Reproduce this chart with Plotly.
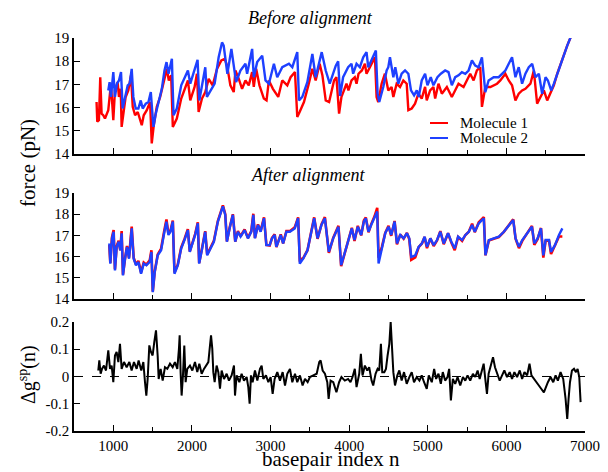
import plotly.graph_objects as go
from plotly.subplots import make_subplots

# ---------------- data ----------------
# Before alignment, molecule 1 (red)
B1_N = [787, 796, 817, 834, 851, 872, 894, 919, 936, 970, 1000, 1021, 1055, 1072, 1094, 1106, 1132, 1157, 1191, 1225,
        1247, 1277, 1311, 1340, 1362, 1387, 1426, 1468, 1489, 1515, 1553, 1596, 1638, 1681, 1706, 1736, 1757, 1808, 1864, 1915,
        1949, 1979, 2034, 2064, 2085, 2128, 2170, 2213, 2264, 2319, 2374, 2417, 2447, 2468, 2489, 2532, 2553, 2596, 2638, 2681,
        2723, 2766, 2787, 2817, 2859, 2915, 2949, 2979, 3030, 3098, 3149, 3213, 3255, 3311, 3340, 3370, 3425, 3481, 3532, 3574,
        3625, 3660, 3702, 3745, 3808, 3838, 3872, 3902, 3966, 3991, 4030, 4072, 4094, 4119, 4162, 4200, 4221, 4264, 4328, 4349,
        4370, 4413, 4455, 4498, 4540, 4562, 4604, 4647, 4689, 4732, 4753, 4796, 4838, 4881, 4923, 4966, 4987, 5030, 5072, 5094,
        5136, 5179, 5243, 5306, 5349, 5391, 5455, 5498, 5540, 5583, 5625, 5668, 5689, 5732, 5796, 5881, 5923, 5987, 6030, 6072,
        6115, 6157, 6200, 6242, 6306, 6349, 6391, 6434, 6477, 6519, 6562, 6604, 6647, 6689, 6732, 6774, 6817]
B1_F = [16.24, 15.39, 15.46, 17.31, 15.74, 15.67, 15.53, 15.74, 15.89, 17.03, 15.46, 16.74, 17.10, 16.46, 16.81, 15.17, 15.89, 16.46, 16.74, 17.39,
        16.03, 15.67, 15.81, 15.53, 15.24, 15.67, 15.89, 16.24, 14.46, 15.24, 16.03, 16.46, 17.03, 17.67, 17.17, 17.39, 15.17, 15.53, 16.39, 16.81,
        17.17, 16.31, 16.89, 17.46, 15.81, 16.39, 16.67, 17.24, 16.96, 17.67, 18.03, 18.10, 17.81, 17.39, 16.96, 16.67, 17.60, 17.24, 16.81, 17.17,
        16.96, 17.53, 16.89, 17.67, 16.96, 16.39, 16.31, 17.17, 16.81, 16.46, 17.17, 16.96, 17.31, 17.53, 15.60, 15.81, 16.24, 16.96, 17.67, 17.17,
        17.89, 17.39, 16.31, 16.24, 17.17, 17.31, 15.74, 16.46, 17.03, 16.74, 17.17, 17.31, 17.03, 17.46, 17.60, 17.89, 17.46, 17.74, 18.17, 16.46,
        16.24, 17.03, 17.46, 16.74, 16.89, 16.46, 17.03, 16.89, 17.17, 17.03, 15.89, 15.96, 16.17, 16.60, 16.39, 16.89, 16.31, 16.74, 16.89, 16.39,
        17.03, 16.60, 16.89, 16.46, 16.74, 17.03, 16.89, 17.17, 17.46, 17.17, 17.60, 17.74, 16.03, 16.89, 16.89, 17.03, 17.17, 17.46, 17.17, 16.96,
        16.31, 16.60, 16.74, 16.81, 17.03, 17.60, 16.17, 16.46, 16.74, 16.31, 16.67, 16.96, 17.46, 17.89, 18.31, 18.67, 19.03]

# Before alignment, molecule 2 (blue)
B2_N = [936, 953, 970, 1000, 1021, 1047, 1072, 1098, 1119, 1149, 1183, 1208, 1234, 1255, 1285, 1319, 1349, 1374, 1413, 1447,
        1477, 1494, 1511, 1540, 1583, 1617, 1651, 1677, 1702, 1745, 1766, 1808, 1864, 1894, 1949, 1979, 2026, 2072, 2094, 2136,
        2170, 2191, 2234, 2289, 2340, 2383, 2404, 2426, 2451, 2502, 2532, 2562, 2617, 2681, 2702, 2766, 2787, 2830, 2894, 2936,
        2979, 3043, 3085, 3149, 3234, 3277, 3340, 3362, 3404, 3468, 3532, 3574, 3651, 3702, 3753, 3830, 3860, 3885, 3923, 3987,
        4030, 4051, 4094, 4136, 4179, 4221, 4243, 4285, 4340, 4362, 4383, 4434, 4477, 4498, 4519, 4562, 4587, 4626, 4668, 4711,
        4753, 4787, 4826, 4860, 4885, 4923, 4966, 4996, 5038, 5072, 5123, 5166, 5221, 5264, 5306, 5349, 5391, 5434, 5477, 5519,
        5562, 5604, 5647, 5689, 5732, 5774, 5838, 5902, 5945, 5987, 6030, 6072, 6115, 6157, 6200, 6242, 6285, 6328, 6370, 6413,
        6455, 6498, 6528, 6570, 6604, 6647, 6689, 6732, 6774, 6817]
B2_F = [16.74, 17.10, 16.46, 17.53, 16.46, 17.03, 17.17, 17.53, 15.96, 16.46, 16.96, 17.03, 17.67, 16.46, 15.96, 15.96, 16.31, 15.96, 16.17, 16.24,
        16.67, 15.89, 15.17, 15.74, 16.39, 16.81, 17.60, 17.96, 17.46, 18.10, 15.67, 15.96, 16.96, 17.17, 17.60, 17.03, 17.53, 18.06, 16.31, 17.17,
        17.74, 16.46, 16.74, 17.03, 18.17, 18.81, 18.67, 18.10, 17.46, 18.53, 17.74, 17.10, 17.60, 17.89, 17.46, 18.53, 17.31, 17.96, 18.24, 17.17,
        17.03, 17.89, 17.31, 17.74, 17.89, 17.74, 18.39, 16.31, 16.46, 17.10, 18.31, 17.31, 18.39, 17.60, 17.03, 17.81, 18.00, 16.50, 17.31, 17.74,
        17.89, 17.46, 17.89, 17.74, 18.17, 18.39, 17.74, 18.03, 18.46, 16.60, 16.24, 16.89, 17.60, 17.74, 18.17, 17.31, 17.74, 17.03, 17.46, 17.60,
        17.46, 16.74, 16.53, 16.74, 16.46, 17.17, 17.46, 16.96, 17.31, 16.96, 17.31, 17.46, 17.60, 17.53, 16.96, 17.31, 17.39, 17.53, 17.46, 17.60,
        18.03, 17.81, 17.74, 18.17, 16.67, 17.17, 17.31, 17.31, 17.46, 17.60, 17.89, 18.17, 17.31, 17.74, 17.03, 17.46, 17.74, 17.89, 17.31, 17.46,
        16.60, 17.31, 17.17, 16.74, 17.03, 17.46, 17.89, 18.31, 18.67, 19.03]

# After alignment (both molecules on the same basepair grid)
A_N = [949, 962, 983, 1004, 1021, 1043, 1068, 1089, 1106, 1123, 1149, 1174, 1200, 1234, 1259, 1289, 1319, 1353, 1387, 1421,
       1463, 1485, 1502, 1527, 1565, 1608, 1650, 1676, 1701, 1727, 1757, 1778, 1820, 1863, 1905, 1948, 1973, 2012, 2041, 2075,
       2092, 2126, 2169, 2194, 2237, 2279, 2330, 2364, 2394, 2424, 2445, 2479, 2521, 2551, 2585, 2619, 2670, 2713, 2755, 2781,
       2802, 2840, 2874, 2917, 2947, 2989, 3019, 3053, 3074, 3130, 3160, 3202, 3245, 3308, 3351, 3372, 3415, 3470, 3521, 3555,
       3598, 3648, 3691, 3742, 3797, 3864, 3898, 3949, 4000, 4034, 4068, 4110, 4153, 4187, 4212, 4246, 4280, 4323, 4357, 4374,
       4416, 4459, 4501, 4535, 4578, 4608, 4650, 4693, 4735, 4765, 4790, 4841, 4884, 4926, 4960, 4990, 5033, 5075, 5118, 5160,
       5203, 5258, 5300, 5343, 5386, 5437, 5479, 5522, 5564, 5598, 5649, 5713, 5734, 5777, 5840, 5904, 5968, 6032, 6087, 6117,
       6160, 6202, 6266, 6325, 6355, 6397, 6440, 6470, 6499, 6542, 6568, 6618, 6669, 6712]
A1_F = [16.55, 15.70, 16.90, 17.25, 15.40, 16.50, 16.75, 16.30, 17.20, 15.15, 15.90, 16.50, 15.95, 17.42, 15.95, 15.62, 15.80, 15.25, 15.72, 15.62,
        15.82, 16.30, 14.35, 15.30, 16.10, 16.38, 17.25, 17.75, 17.08, 17.22, 17.70, 15.25, 15.62, 16.42, 16.82, 17.30, 16.25, 16.66, 17.06, 17.62,
        15.70, 16.35, 17.20, 16.10, 16.42, 16.74, 17.68, 18.10, 18.42, 18.00, 16.72, 17.35, 18.00, 16.70, 17.20, 16.96, 17.28, 16.88, 17.20, 18.02,
        16.88, 17.52, 17.20, 17.85, 16.55, 16.52, 16.88, 17.05, 16.45, 17.05, 16.62, 17.20, 17.20, 17.38, 17.85, 15.85, 15.92, 16.30, 17.20, 17.85,
        16.84, 17.52, 17.86, 16.18, 16.88, 17.45, 15.55, 16.20, 16.90, 17.36, 16.74, 17.45, 17.00, 17.70, 17.85, 17.15, 17.52, 17.90, 18.30, 15.95,
        16.45, 17.12, 17.45, 16.98, 17.68, 16.58, 17.04, 16.84, 17.12, 16.82, 15.85, 15.96, 16.44, 16.62, 16.92, 16.40, 16.86, 16.50, 16.76, 17.20,
        16.58, 17.10, 16.66, 16.30, 16.92, 16.74, 17.02, 17.17, 17.55, 17.15, 17.62, 17.86, 16.06, 16.76, 16.84, 16.92, 17.17, 17.50, 17.76, 16.84,
        16.40, 16.74, 17.08, 17.45, 16.55, 16.82, 17.35, 15.95, 16.74, 16.76, 16.12, 16.50, 16.95, 16.95]
A2_F = [16.62, 15.67, 16.86, 17.17, 15.35, 16.46, 16.70, 16.30, 17.10, 15.11, 15.90, 16.46, 15.90, 17.33, 15.90, 15.59, 15.75, 15.19, 15.67, 15.59,
        15.75, 16.22, 14.32, 15.27, 16.06, 16.30, 17.17, 17.65, 17.02, 17.17, 17.65, 15.19, 15.59, 16.38, 16.78, 17.25, 16.22, 16.62, 17.02, 17.57,
        15.67, 16.30, 17.17, 16.06, 16.38, 16.70, 17.65, 18.05, 18.37, 17.97, 16.70, 17.33, 17.97, 16.70, 17.17, 16.94, 17.25, 16.86, 17.17, 17.97,
        16.86, 17.49, 17.17, 17.81, 16.54, 16.54, 16.86, 17.02, 16.46, 17.02, 16.62, 17.17, 17.17, 17.33, 17.81, 15.67, 15.90, 16.30, 17.17, 17.81,
        16.86, 17.49, 17.81, 16.22, 16.86, 17.41, 15.59, 16.22, 16.86, 17.33, 16.78, 17.41, 17.02, 17.65, 17.81, 17.17, 17.49, 17.81, 18.13, 15.67,
        16.46, 17.10, 17.41, 17.02, 17.65, 16.62, 17.02, 16.86, 17.10, 16.86, 15.98, 16.06, 16.46, 16.62, 16.94, 16.46, 16.86, 16.54, 16.78, 17.17,
        16.62, 17.10, 16.70, 16.38, 16.94, 16.78, 17.02, 17.17, 17.49, 17.17, 17.57, 17.81, 16.06, 16.78, 16.86, 16.94, 17.17, 17.49, 17.73, 16.86,
        16.46, 16.78, 17.10, 17.41, 16.62, 16.86, 17.33, 16.06, 16.78, 16.78, 16.22, 16.54, 17.02, 17.33]

# Free-energy difference Delta g^sp(n)
DG_N = [809, 822, 839, 856, 881, 907, 936, 958, 979, 1000, 1021, 1042, 1064, 1085, 1106, 1136, 1170, 1204, 1233, 1263,
        1297, 1322, 1356, 1382, 1403, 1420, 1437, 1458, 1479, 1500, 1521, 1543, 1564, 1577, 1602, 1628, 1657, 1687, 1721, 1755,
        1784, 1814, 1835, 1844, 1856, 1869, 1886, 1903, 1920, 1941, 1975, 2005, 2039, 2068, 2094, 2124, 2153, 2179, 2209, 2230,
        2243, 2259, 2272, 2289, 2314, 2336, 2357, 2378, 2408, 2442, 2471, 2505, 2535, 2548, 2569, 2603, 2632, 2662, 2696, 2717,
        2734, 2751, 2772, 2802, 2832, 2866, 2887, 2908, 2942, 2972, 3001, 3027, 3052, 3086, 3120, 3154, 3184, 3213, 3247, 3277,
        3311, 3340, 3374, 3408, 3438, 3472, 3501, 3544, 3587, 3620, 3637, 3663, 3692, 3722, 3739, 3764, 3798, 3838, 3872, 3902,
        3945, 3987, 4017, 4043, 4072, 4094, 4128, 4149, 4170, 4200, 4230, 4255, 4285, 4306, 4336, 4362, 4383, 4404, 4421, 4447,
        4468, 4489, 4511, 4528, 4545, 4562, 4583, 4613, 4638, 4668, 4698, 4732, 4766, 4796, 4825, 4860, 4894, 4923, 4953, 4987,
        5013, 5051, 5081, 5106, 5136, 5166, 5191, 5221, 5251, 5272, 5294, 5319, 5349, 5379, 5413, 5447, 5477, 5506, 5540, 5574,
        5604, 5634, 5660, 5689, 5711, 5736, 5753, 5774, 5804, 5830, 5855, 5881, 5915, 5945, 5974, 6008, 6042, 6072, 6102, 6136,
        6170, 6200, 6230, 6264, 6294, 6319, 6349, 6383, 6413, 6443, 6477, 6498, 6528, 6562, 6596, 6626, 6655, 6689, 6723, 6753,
        6774, 6791, 6809, 6834, 6860, 6885, 6906, 6927, 6944]
DG_V = [0.022, 0.059, 0.010, 0.028, 0.040, 0.022, 0.096, 0.028, 0.040, -0.021, 0.077, 0.090, 0.053, 0.120, 0.028, 0.053, 0.034, 0.053, 0.022, 0.053,
        0.028, 0.059, 0.022, 0.053, -0.021, -0.070, -0.009, 0.114, 0.090, 0.077, 0.126, 0.169, 0.077, -0.009, 0.028, -0.015, 0.034, 0.028, 0.047, 0.034,
        0.053, 0.028, 0.102, 0.151, 0.016, -0.070, 0.004, 0.114, -0.021, 0.028, 0.040, 0.022, 0.053, 0.016, 0.047, 0.010, 0.028, 0.040, 0.053, 0.114,
        0.151, 0.102, 0.016, -0.021, 0.040, 0.016, -0.045, 0.022, -0.009, 0.010, -0.015, 0.004, 0.040, -0.070, 0.004, -0.021, 0.010, -0.015, -0.002, -0.039,
        -0.100, 0.004, -0.021, 0.022, -0.015, 0.028, 0.040, -0.009, 0.004, -0.021, -0.002, -0.064, -0.009, 0.016, -0.015, 0.016, -0.033, 0.010, 0.028, -0.021,
        0.010, -0.021, 0.004, -0.033, -0.009, -0.021, -0.002, 0.004, 0.010, 0.053, 0.059, 0.022, 0.010, -0.021, -0.082, -0.015, -0.021, -0.058, -0.021, -0.002,
        -0.015, -0.009, -0.021, -0.002, 0.028, -0.039, 0.010, 0.083, 0.004, 0.040, 0.022, 0.034, -0.015, -0.033, 0.010, 0.028, 0.022, 0.120, 0.016, 0.016,
        0.028, 0.077, 0.120, 0.200, 0.126, 0.016, -0.033, 0.004, 0.022, -0.015, 0.016, -0.027, -0.002, 0.016, -0.021, -0.002, -0.015, 0.004, -0.021, -0.045,
        0.004, -0.021, 0.028, -0.009, 0.010, -0.027, 0.016, -0.015, -0.002, 0.028, -0.088, -0.009, -0.027, -0.002, -0.033, -0.002, -0.015, 0.004, -0.015, 0.010,
        -0.002, 0.022, -0.009, 0.028, 0.047, -0.021, -0.064, 0.010, 0.040, 0.071, 0.034, 0.010, -0.015, 0.004, 0.022, -0.002, 0.016, -0.009, 0.016, -0.002,
        0.022, -0.009, 0.016, 0.004, 0.047, 0.004, -0.009, -0.021, -0.033, -0.045, -0.058, -0.039, -0.021, -0.002, -0.021, 0.004, -0.015, 0.016, -0.009, -0.082,
        -0.156, -0.082, -0.021, 0.022, 0.028, 0.016, 0.028, -0.002, -0.094]

X_RANGE = [500, 7000]
X_TICKS = [1000, 2000, 3000, 4000, 5000, 6000, 7000]
F_RANGE = [14, 19]
F_TICKS = [14, 15, 16, 17, 18, 19]
DG_RANGE = [-0.2, 0.2]
DG_TICKS = [-0.2, -0.1, 0, 0.1, 0.2]
DG_TICKTEXT = ["-0.2", "-0.1", "0", "0.1", "0.2"]
LEGEND_NAMES = ["Molecule 1", "Molecule 2"]

RED = "#ff0000"
BLUE = "#1e40ff"
SERIF = "Liberation Serif, Times New Roman, serif"

# ---------------- figure ----------------
fig = make_subplots(rows=3, cols=1, shared_xaxes=False, vertical_spacing=0.05)

fig.add_trace(go.Scatter(x=B1_N, y=B1_F, mode="lines", name=LEGEND_NAMES[0], showlegend=False,
                         line=dict(color=RED, width=2.4)), row=1, col=1)
fig.add_trace(go.Scatter(x=B2_N, y=B2_F, mode="lines", name=LEGEND_NAMES[1], showlegend=False,
                         line=dict(color=BLUE, width=2.4)), row=1, col=1)
fig.add_trace(go.Scatter(x=A_N, y=A1_F, mode="lines", showlegend=False,
                         line=dict(color=RED, width=2.6)), row=2, col=1)
fig.add_trace(go.Scatter(x=A_N, y=A2_F, mode="lines", showlegend=False,
                         line=dict(color=BLUE, width=2.4)), row=2, col=1)
fig.add_trace(go.Scatter(x=DG_N, y=DG_V, mode="lines", showlegend=False,
                         line=dict(color="black", width=2)), row=3, col=1)

fig.add_hline(y=0, line=dict(color="black", width=1, dash="dash"), row=3, col=1)

# domains (paper coords) from pixel layout
doms = [[0.7048, 1.0], [0.3359, 0.6056], [0.0, 0.2774]]
axis_common = dict(showline=True, linecolor="black", linewidth=1.5, mirror=False,
                   showgrid=False, zeroline=False, ticks="inside", ticklen=6,
                   tickwidth=1.3, tickcolor="black", automargin=False,
                   tickfont=dict(family=SERIF, size=15, color="black"))
for i, dom in enumerate(doms, start=1):
    xa = "xaxis" if i == 1 else f"xaxis{i}"
    ya = "yaxis" if i == 1 else f"yaxis{i}"
    fig.layout[xa].update(range=X_RANGE, tickvals=X_TICKS, domain=[0, 1],
                          showticklabels=(i == 3),
                          minor=dict(ticks="inside", dtick=500, tick0=500, ticklen=4,
                                     tickwidth=1.2, tickcolor="black"),
                          **axis_common)
    if i < 3:
        fig.layout[ya].update(domain=dom, range=F_RANGE, tickvals=F_TICKS, **axis_common)
    else:
        fig.layout[ya].update(domain=dom, range=DG_RANGE, tickvals=DG_TICKS,
                              ticktext=DG_TICKTEXT, **axis_common)

annots = [
    dict(text="<i>Before alignment</i>", x=0.462, y=1.051, size=18),
    dict(text="<i>After alignment</i>", x=0.458, y=0.651, size=18),
    dict(text="basepair index n", x=0.503, y=-0.07, size=21),
]
for a in annots:
    fig.add_annotation(text=a["text"], x=a["x"], y=a["y"], xref="paper", yref="paper",
                       showarrow=False, xanchor="center", yanchor="middle",
                       font=dict(family=SERIF, size=a["size"], color="black"))
fig.add_annotation(text="force (pN)", x=-0.09, y=0.682, xref="paper", yref="paper",
                   showarrow=False, textangle=-90, xanchor="center", yanchor="middle",
                   font=dict(family=SERIF, size=21, color="black"))
fig.add_annotation(text="Δg<sup>sp</sup>(n)", x=-0.09, y=0.1425, xref="paper", yref="paper",
                   showarrow=False, textangle=-90, xanchor="center", yanchor="middle",
                   font=dict(family=SERIF, size=20, color="black"))

# legend key (drawn in paper space, inside the top panel)
for name, col, ly in zip(LEGEND_NAMES, [RED, BLUE], [0.7837, 0.7455]):
    fig.add_shape(type="line", xref="paper", yref="paper", x0=0.6967, x1=0.7319, y0=ly, y1=ly,
                  line=dict(color=col, width=2))
    fig.add_annotation(text=name, x=0.7515, y=ly, xref="paper", yref="paper", showarrow=False,
                       xanchor="left", yanchor="middle",
                       font=dict(family=SERIF, size=15, color="black"))

# page body has an 8px margin: figure offset so the plot lands where the reference has it
fig.update_layout(
    width=600, height=472,
    margin=dict(l=66, r=23, t=30, b=49, autoexpand=False),
    paper_bgcolor="white", plot_bgcolor="white",
    showlegend=False,
)

fig.write_html("out.html")
